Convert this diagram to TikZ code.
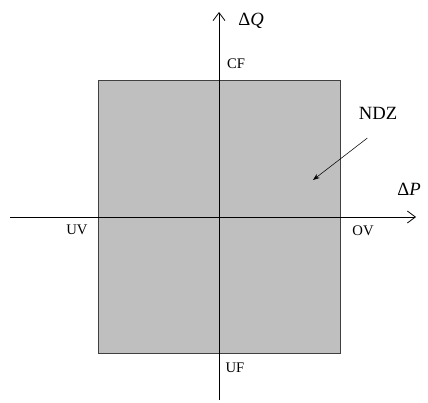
\documentclass[tikz,border=0pt]{standalone}
\usepackage{fontspec}
\setmainfont{Liberation Serif}
\usetikzlibrary{arrows.meta}

\begin{document}
\begin{tikzpicture}[x=0.75pt,y=-0.75pt,
  axislabel/.style={font=\fontsize{14}{14}\selectfont, inner sep=0pt},
  smalllabel/.style={font=\fontsize{11}{11}\selectfont, inner sep=0pt}]
\useasboundingbox (0,0) rectangle (428,403);
\fill[gray!50] (98,80) rectangle (340,353);
\draw[semithick, black!75] (98,80) rectangle (340,353);

\coordinate (xl) at (10,217);
\coordinate (xr) at (416,217);
\coordinate (yb) at (219,400);
\coordinate (yt) at (219,12);
\draw[semithick,-{Straight Barb[length=6pt,width=9pt]}] (xl) -- (xr);
\draw[semithick,-{Straight Barb[length=6pt,width=9pt]}] (yb) -- (yt);

\node[axislabel] (dQ) at (251,21) {Δ\textit{Q}};
\node[axislabel, anchor=west] (dP) at (397,189) {Δ\textit{P}};
\node[smalllabel] (cf) at (236,64) {CF};
\node[smalllabel] (uf) at (235,368) {UF};
\node[smalllabel] (uv) at (77,230) {UV};
\node[smalllabel] (ov) at (363,231) {OV};

\node[axislabel] (ndz) at (378,113) {NDZ};
\coordinate (ndzpt) at (313,180);
\draw[-{Stealth[length=5pt]}] ([xshift=-8pt,yshift=-14pt]ndz.south) -- (ndzpt);
\end{tikzpicture}
\end{document}
